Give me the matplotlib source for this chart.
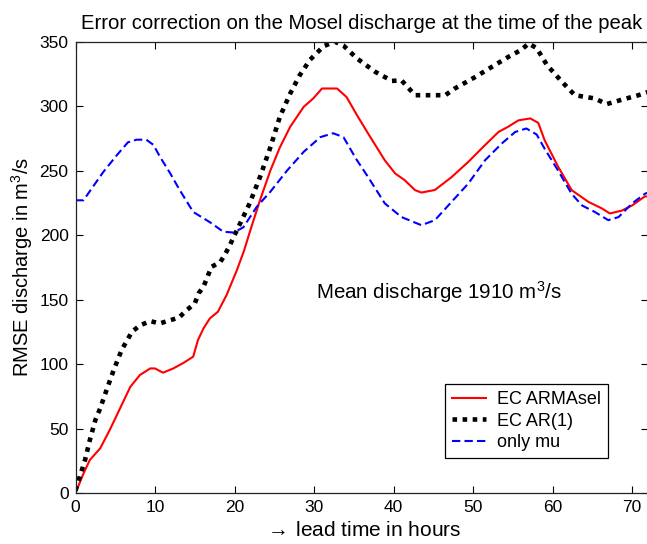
import matplotlib
matplotlib.use("Agg")
import matplotlib.pyplot as plt

plt.rcParams['font.family'] = ['Liberation Sans', 'DejaVu Sans']
plt.rcParams['mathtext.default'] = 'regular'

# EC ARMAsel (red)
red_h = [0, 1.0, 1.8, 3.1, 4.3, 5.6, 6.9, 8.1, 9.4, 10.0, 11.0, 12.3, 13.6, 14.8, 15.4,
         16.1, 16.9, 17.9, 19.0, 20.3, 21.2, 22.0, 23.2, 24.5, 25.7, 27.0, 28.7, 29.9,
         31.0, 32.9, 34.1, 35.4, 36.8, 38.9, 40.2, 41.4, 42.7, 43.5, 45.2, 47.3, 49.4,
         51.5, 53.2, 54.4, 55.7, 57.2, 58.2, 59.0, 60.7, 62.4, 64.5, 66.2, 67.2, 68.7,
         70.0, 71.6, 72.0]
red_v = [0, 15, 25.6, 34.6, 48.8, 65.6, 82.4, 91.5, 96.6, 96.6, 93.3, 96.6, 101, 105.7,
         118.6, 127.7, 135.4, 140.5, 153.5, 172.9, 188, 204, 227, 250, 268, 284, 299.5,
         306, 313.7, 313.7, 307, 293, 278.8, 258, 247.8, 242.6, 234.9, 233, 235, 245,
         256.8, 269.8, 280, 284, 289, 290.5, 287, 273.6, 253, 234.9, 225.8, 220.7, 216.8,
         219, 223, 230, 230]

# EC AR(1) (black dotted)
blk_h = [0, 0.3, 0.8, 1.2, 1.8, 2.5, 3.1, 3.9, 4.8, 5.8, 7.1, 8.1, 9.4, 10.6, 11.9, 13.0,
         14.0, 15.0, 15.5, 16.1, 17.1, 18.2, 18.8, 19.4, 20.0, 20.7, 21.9, 23.2, 24.5,
         25.7, 27.0, 28.2, 29.5, 31.2, 32.6, 33.7, 35.4, 37.7, 39.8, 41.0, 42.7, 46.5,
         47.7, 50.3, 52.5, 54.6, 56.0, 57.0, 58.0, 59.3, 61.2, 62.8, 65.3, 66.8, 68.7,
         70.8, 72.0]
blk_v = [2, 8, 17.8, 25.6, 41, 56.6, 65.6, 79.8, 95.3, 110.9, 125, 130, 133.3, 131.5, 134,
         136, 141.9, 147, 155, 160, 175.4, 179, 185, 192, 200, 209, 224.6, 245, 268,
         291.7, 309.8, 324, 336, 346.5, 350, 347, 337, 326.6, 319.6, 320, 308.5, 308.5,
         313.7, 322.7, 331, 338.8, 343.4, 348.6, 345, 331.8, 318.8, 308.5, 306, 301.6, 305,
         308.5, 311]

# only mu (blue dashed)
blu_h = [0, 1.0, 3.5, 5.2, 6.6, 7.7, 8.9, 9.8, 10.6, 11.9, 13.1, 14.8, 16.9, 18.6, 19.9,
         21.1, 22.8, 24.5, 26.6, 28.7, 30.8, 32.4, 33.7, 35.3, 36.8, 38.9, 41.0, 43.5,
         45.2, 47.3, 49.4, 51.5, 53.6, 55.3, 56.7, 58.0, 59.0, 60.7, 62.4, 63.7, 65.3,
         67.0, 68.3, 70.0, 71.6, 72.0]
blu_v = [227, 227, 249, 262, 272, 274, 274, 270, 261, 248, 235, 218, 210, 202.6, 202,
         206, 222, 233.6, 250, 264.6, 276, 279, 276, 259, 245, 224.6, 214, 207.7,
         211.6, 225.8, 240, 258, 271, 280, 282.7, 278, 267, 250, 232, 223, 218,
         211.6, 214, 224.6, 232, 233]

labels = ['EC ARMAsel', 'EC AR(1)', 'only mu']
xticks = [0, 10, 20, 30, 40, 50, 60, 70]
yticks = [0, 50, 100, 150, 200, 250, 300, 350]

fig = plt.figure(figsize=(6.47, 5.44), dpi=100)
ax = fig.add_axes([75.5 / 647, 1 - 493 / 544, 572.5 / 647, 451.3 / 544])

ax.plot(red_h, red_v, color='#ff0000', lw=1.5, label=labels[0])
ax.plot(blk_h, blk_v, color='black', lw=3.3, linestyle=(0, (1, 1.2)),
        dash_capstyle='butt', label=labels[1])
ax.plot(blu_h, blu_v, color='#0000ff', lw=1.5, linestyle=(0, (4, 2)), label=labels[2])

ax.set_xlim(0, 72)
ax.set_ylim(0, 350)
ax.set_xticks(xticks)
ax.set_yticks(yticks)
ax.tick_params(direction='in', length=5, width=0.8, top=True, right=True,
               labelsize=12.5, colors='black', pad=5)
for s in ax.spines.values():
    s.set_linewidth(0.9)
    s.set_color('#222222')

ax.set_title('Error correction on the Mosel discharge at the time of the peak',
             fontsize=14.6, pad=9)
ax.set_xlabel('$\\rightarrow\\,$lead time in hours', fontsize=15, labelpad=4)
ax.set_ylabel('RMSE discharge in m$^3$/s', fontsize=14.5, labelpad=3)

ax.text(30.2, 156, 'Mean discharge 1910 m$^3$/s', fontsize=14.8, ha='left', va='center')

leg = ax.legend(loc='upper left', bbox_to_anchor=(0.645, 0.2415), fontsize=13,
                handlelength=1.9, handletextpad=0.6, labelspacing=0.25,
                borderpad=0.4, fancybox=False, framealpha=1, edgecolor='black',
                borderaxespad=0)
leg.get_frame().set_linewidth(0.9)

fig.savefig('out.png', dpi=100)
